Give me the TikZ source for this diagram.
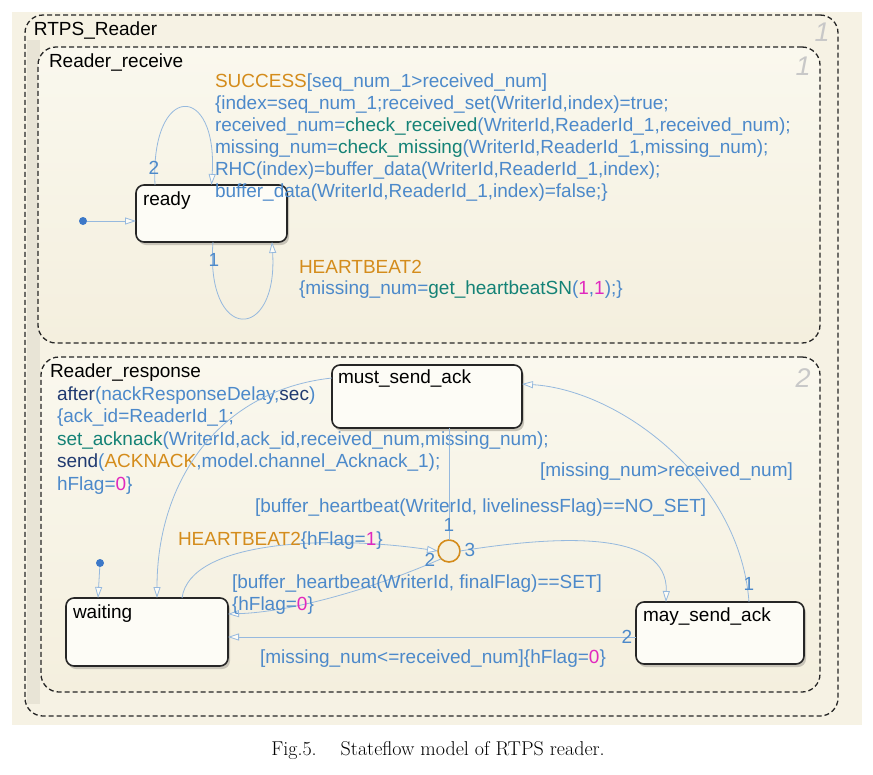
\documentclass[tikz,border=0pt]{standalone}
\usepackage{fontspec}
\newfontfamily\lsans{Liberation Sans}
\usetikzlibrary{arrows.meta}
\definecolor{bgc}{RGB}{246,242,228}
\definecolor{stripc}{RGB}{232,228,214}
\definecolor{boxtop}{RGB}{250,248,238}
\definecolor{boxbot}{RGB}{244,239,222}
\definecolor{statefill}{RGB}{253,252,246}
\definecolor{tblue}{RGB}{76,137,202}
\definecolor{torange}{RGB}{212,140,28}
\definecolor{tteal}{RGB}{20,130,118}
\definecolor{tnavy}{RGB}{32,58,112}
\definecolor{tmag}{RGB}{225,40,190}
\definecolor{tline}{RGB}{150,185,222}
\definecolor{tgray}{RGB}{200,200,200}
\definecolor{dotblue}{RGB}{60,120,200}
\definecolor{shadowc}{RGB}{200,196,184}
\newcommand\cOr[1]{\textcolor{torange}{#1}}
\newcommand\cTl[1]{\textcolor{tteal}{#1}}
\newcommand\cNv[1]{\textcolor{tnavy}{#1}}
\newcommand\cMg[1]{\textcolor{tmag}{#1}}
\begin{document}
\begin{tikzpicture}[x=1pt,y=-1pt,
  every node/.style={inner sep=0pt, outer sep=0pt},
  txt/.style={anchor=base west, font=\lsans\fontsize{19}{22}\selectfont, text=tblue},
  lbl/.style={font=\lsans\fontsize{19}{22}\selectfont, text=tblue},
  statelbl/.style={anchor=base west, font=\lsans\fontsize{19}{22}\selectfont, text=black},
  cornum/.style={font=\lsans\itshape\fontsize{27}{27}\selectfont, text=tgray},
  superbox/.style={draw=black!85, dash pattern=on 5pt off 3pt, line width=1.3pt, rounded corners=18pt, top color=boxtop, bottom color=boxbot},
  stbox/.style={draw=black!85, line width=1.6pt, rounded corners=8pt, fill=statefill},
  shadowbox/.style={fill=shadowc, rounded corners=8pt},
  trans/.style={draw=tline, line width=0.8pt, -{Triangle[open,length=11pt,width=7pt,fill=statefill]}},
  plainline/.style={draw=tline, line width=0.8pt},
  dot/.style={circle, fill=dotblue, minimum size=8pt},
  junction/.style={circle, draw=torange, line width=1.6pt, minimum size=22pt, fill=boxbot}
]
\useasboundingbox (0,0) rectangle (873,774);
\fill[white] (0,0) rectangle (873,774);
\fill[bgc] (12,12) rectangle (862,725);

% super states
\node[superbox, fill=bgc, top color=bgc, bottom color=bgc, minimum width=813pt, minimum height=701pt] (rtps) at (431.5,365.5) {};
\fill[stripc] (27,40) rectangle (40,704);
\node[superbox, minimum width=782pt, minimum height=296pt] (recv) at (429,195) {};
\node[superbox, minimum width=779pt, minimum height=335pt] (resp) at (430.5,524.5) {};

\node[statelbl] (rtpst) at (34,35) {RTPS\_Reader};
\node[statelbl] (recvt) at (49,67) {Reader\_receive};
\node[statelbl] (respt) at (50,377) {Reader\_response};
\node[cornum] (c1) at (822,32) {1};
\node[cornum] (c2) at (803,66) {1};
\node[cornum] (c3) at (803,378) {2};

% state shadows
\fill[shadowbox] (138,188) rectangle (289,245);
\fill[shadowbox] (334,368) rectangle (524,431);
\fill[shadowbox] (68,601) rectangle (230,669);
\fill[shadowbox] (638,605) rectangle (806,667);

% states
\node[stbox, minimum width=151pt, minimum height=57pt] (ready) at (211.5,213.5) {};
\node[statelbl] (readyt) at (143,205) {ready};
\node[stbox, minimum width=190pt, minimum height=63pt] (must) at (427,396.5) {};
\node[statelbl] (mustt) at (338,383) {must\_send\_ack};
\node[stbox, minimum width=162pt, minimum height=68pt] (wait) at (147,632) {};
\node[statelbl] (waitt) at (73,618) {waiting};
\node[stbox, minimum width=168pt, minimum height=62pt] (may) at (720,633) {};
\node[statelbl] (mayt) at (643,621) {may\_send\_ack};
\node[junction] (j) at (449,551) {};
\node[dot] (d1) at (83,221) {};
\node[dot] (d2) at (100,563) {};

% Reader_receive transitions
\draw[trans] (d1) -- (d1 -| ready.west);
\draw[trans] ([xshift=19pt]ready.north west) .. controls (150,82) and (218,82) .. (ready.north);
\draw[trans] ([xshift=1.5pt]ready.south) .. controls (205,343) and (278,343) .. ([xshift=-15pt]ready.south east);
\node[lbl] (r2) at (154,168) {2};
\node[lbl] (r1) at (214,260) {1};

\node[txt] (s1) at (215,87) {\cOr{SUCCESS}[seq\_num\_1>received\_num]};
\node[txt] (s2) at (215,109.3) {\{index=seq\_num\_1;received\_set(WriterId,index)=true;};
\node[txt] (s3) at (215,131.7) {received\_num=\cTl{check\_received}(WriterId,ReaderId\_1,received\_num);};
\node[txt] (s4) at (215,153.3) {missing\_num=\cTl{check\_missing}(WriterId,ReaderId\_1,missing\_num);};
\node[txt] (s5) at (215,175) {RHC(index)=buffer\_data(WriterId,ReaderId\_1,index);};
\node[txt] (s6) at (215,197.3) {buffer\_data(WriterId,ReaderId\_1,index)=false;\}};
\node[txt] (h1) at (299,273) {\cOr{HEARTBEAT2}};
\node[txt] (h2) at (299,294) {\{missing\_num=\cTl{get\_heartbeatSN}(\cMg{1},\cMg{1});\}};

% Reader_response text
\node[txt] (a1) at (57,400) {\cNv{after}(nackResponseDelay,\cNv{sec})};
\node[txt] (a2) at (57,422.5) {\{ack\_id=ReaderId\_1;};
\node[txt] (a3) at (57,445) {\cTl{set\_acknack}(WriterId,ack\_id,received\_num,missing\_num);};
\node[txt] (a4) at (57,467) {\cNv{send}(\cOr{ACKNACK},model.channel\_Acknack\_1);};
\node[txt] (a5) at (57,490) {hFlag=\cMg{0}\}};

% Reader_response transitions
\draw[trans] ([yshift=18.5pt]must.west) .. controls (220,390) and (157,480) .. ([xshift=10pt]wait.north);
\draw[trans] (d2) -- ([xshift=-49pt]wait.north);
\draw[trans] ([xshift=35pt]wait.north) .. controls (190,540) and (330,535) .. (j.west);
\draw[trans] (j.south west) .. controls (370,590) and (290,612) .. ([yshift=18pt]wait.east);
\draw[plainline] (j.north) -- (j.north |- must.south);
\draw[trans] (j.east) .. controls (560,535) and (668,530) .. ([xshift=-54pt]may.north);
\draw[trans] ([xshift=29pt]may.north) .. controls (740,480) and (620,390) .. ([yshift=12.5pt]must.east);
\draw[trans] ([yshift=-4pt]may.west) -- ([yshift=-4pt]may.west -| wait.east);

\node[lbl] (j1) at (449,525) {1};
\node[lbl] (j2) at (430,560) {2};
\node[lbl] (j3) at (470,550) {3};
\node[lbl] (m1) at (749,584) {1};
\node[lbl] (m2) at (627,637) {2};

\node[txt] (g1) at (255,512) {[buffer\_heartbeat(WriterId, livelinessFlag)==NO\_SET]};
\node[txt] (g2) at (540,476) {[missing\_num>received\_num]};
\node[txt] (g3) at (178,545) {\cOr{HEARTBEAT2}\{hFlag=\cMg{1}\}};
\node[txt] (g4) at (232,588) {[buffer\_heartbeat(WriterId, finalFlag)==SET]};
\node[txt] (g5) at (232,610) {\{hFlag=\cMg{0}\}};
\node[txt] (g6) at (260,663) {[missing\_num<=received\_num]\{hFlag=\cMg{0}\}};

% caption
\node[anchor=base, font=\rmfamily\fontsize{20}{23}\selectfont] (cap) at (438,755) {Fig.5.\hspace{1.2em}Stateflow model of RTPS reader.};
\end{tikzpicture}
\end{document}
